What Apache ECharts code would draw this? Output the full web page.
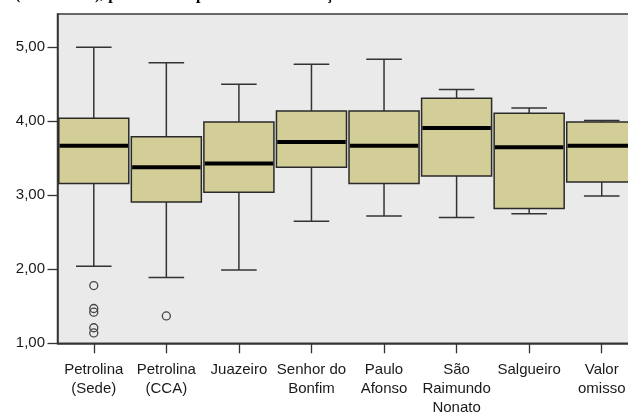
<!DOCTYPE html>
<html>
<head>
<meta charset="utf-8">
<script src="https://cdn.jsdelivr.net/npm/echarts@6/dist/echarts.min.js"></script>
<style>
html,body{margin:0;padding:0;background:#fff;overflow:hidden;}
#chart{width:628px;height:414px;}
</style>
</head>
<body>
<div id="chart"></div>
<script>
// ---- data ----
var categories = ['Petrolina\n(Sede)', 'Petrolina\n(CCA)', 'Juazeiro', 'Senhor do\nBonfim', 'Paulo\nAfonso', 'São\nRaimundo\nNonato', 'Salgueiro', 'Valor\nomisso'];
var whiskerLow  = [2.04, 1.89, 1.99, 2.65, 2.72, 2.70, 2.75, 2.99];
var q1          = [3.16, 2.91, 3.04, 3.38, 3.16, 3.26, 2.82, 3.18];
var median      = [3.67, 3.38, 3.43, 3.72, 3.67, 3.91, 3.65, 3.67];
var q3          = [4.04, 3.79, 3.99, 4.14, 4.14, 4.31, 4.11, 3.99];
var whiskerHigh = [5.00, 4.79, 4.50, 4.77, 4.84, 4.43, 4.18, 4.01];
var outlierCategory = [0, 0, 0, 0, 0, 1];
var outlierValue    = [1.78, 1.47, 1.42, 1.21, 1.14, 1.37];
var yTicks = [1, 2, 3, 4, 5];
var headerText = '(ESCORES), por cidade e por local de realização';

// ---- build ----
var boxData = categories.map(function (c, i) {
  return [i, whiskerLow[i], q1[i], median[i], q3[i], whiskerHigh[i]];
});
var outlierData = outlierCategory.map(function (c, i) { return [c, outlierValue[i]]; });

var chart = echarts.init(document.getElementById('chart'), null, {renderer: 'canvas'});
var lineCol = '#333333';
var fontFam = '"Liberation Sans", Arial, sans-serif';

chart.setOption({
  animation: false,
  backgroundColor: '#ffffff',
  graphic: [{
    type: 'text', left: 15, top: -13,
    style: { text: headerText, font: 'bold 16px "Liberation Serif", serif', fill: '#000' }
  }],
  grid: {
    left: 57.5, top: 14, height: 329.3, width: 580.5,
    outerBoundsMode: 'none', containLabel: false,
    show: true, backgroundColor: '#eaeaea', borderColor: '#3a3a3a', borderWidth: 1.5
  },
  xAxis: {
    type: 'category',
    data: categories,
    boundaryGap: true,
    axisLine: { show: true, lineStyle: { color: lineCol, width: 1.5 } },
    axisTick: { show: true, alignWithLabel: true, length: 10, lineStyle: { color: lineCol, width: 1.3 } },
    axisLabel: { interval: 0, margin: 17, fontSize: 15, lineHeight: 19, color: '#1a1a1a', fontFamily: fontFam, align: 'center' },
    splitLine: { show: false }
  },
  yAxis: {
    type: 'value',
    min: 1, max: 5.45,
    axisLine: { show: true, lineStyle: { color: lineCol, width: 1.5 } },
    axisTick: { show: true, length: 10, customValues: yTicks, lineStyle: { color: lineCol, width: 1.3 } },
    axisLabel: {
      customValues: yTicks, margin: 12.5, fontSize: 15, color: '#1a1a1a', fontFamily: fontFam,
      formatter: function (v) { return v.toFixed(2).replace('.', ','); }
    },
    splitLine: { show: false }
  },
  series: [{
    type: 'custom',
    data: boxData,
    encode: { x: 0, y: [1, 2, 3, 4, 5] },
    renderItem: function (params, api) {
      var x = api.value(0);
      var pLow = api.coord([x, api.value(1)]);
      var pQ1 = api.coord([x, api.value(2)]);
      var pMed = api.coord([x, api.value(3)]);
      var pQ3 = api.coord([x, api.value(4)]);
      var pHigh = api.coord([x, api.value(5)]);
      var band = api.size([1, 0])[0];
      var bw = band * 0.965;
      var cw = band * 0.49;
      var cx = pMed[0];
      var ls = { stroke: lineCol, lineWidth: 1.5 };
      return {
        type: 'group',
        children: [
          { type: 'line', shape: { x1: cx, y1: pLow[1], x2: cx, y2: pQ1[1] }, style: ls },
          { type: 'line', shape: { x1: cx, y1: pQ3[1], x2: cx, y2: pHigh[1] }, style: ls },
          { type: 'line', shape: { x1: cx - cw / 2, y1: pLow[1], x2: cx + cw / 2, y2: pLow[1] }, style: ls },
          { type: 'line', shape: { x1: cx - cw / 2, y1: pHigh[1], x2: cx + cw / 2, y2: pHigh[1] }, style: ls },
          { type: 'rect', shape: { x: cx - bw / 2, y: pQ3[1], width: bw, height: pQ1[1] - pQ3[1] },
            style: { fill: '#d3ce97', stroke: '#2a2a2a', lineWidth: 1.5 } },
          { type: 'line', shape: { x1: cx - bw / 2 + 0.8, y1: pMed[1], x2: cx + bw / 2 - 0.8, y2: pMed[1] },
            style: { stroke: '#000', lineWidth: 4 } }
        ]
      };
    }
  }, {
    type: 'scatter',
    data: outlierData,
    symbol: 'circle',
    symbolSize: 8,
    itemStyle: { color: 'rgba(0,0,0,0)', borderColor: '#444', borderWidth: 1.3, opacity: 1 }
  }]
});
</script>
</body>
</html>
